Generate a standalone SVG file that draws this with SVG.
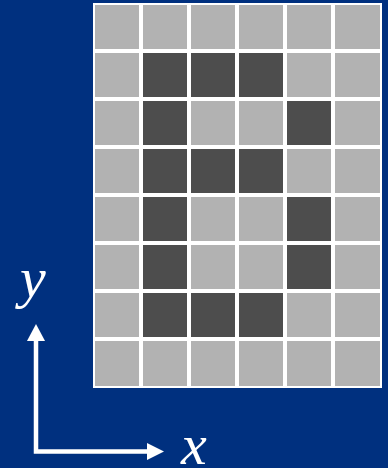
<svg xmlns="http://www.w3.org/2000/svg" width="388" height="468" viewBox="0 0 388 468">
<style>
.l{fill:#b2b2b2}
.d{fill:#4d4d4d}
.t{font-family:"Liberation Serif","Times New Roman",serif;font-style:italic;font-size:58px;fill:#ffffff}
.ax{stroke:#ffffff;stroke-width:4.5;fill:none}
</style>
<rect width="388" height="468" fill="#00307f"/>
<g id="grid">
<rect x="93" y="3" width="289" height="385" fill="#ffffff"/>
<g class="l">
<rect x="95" y="5" width="44" height="44"/><rect x="143" y="5" width="44" height="44"/><rect x="191" y="5" width="44" height="44"/><rect x="239" y="5" width="44" height="44"/><rect x="287" y="5" width="44" height="44"/><rect x="335" y="5" width="45" height="44"/>
<rect x="95" y="53" width="44" height="44"/><rect x="287" y="53" width="44" height="44"/><rect x="335" y="53" width="45" height="44"/>
<rect x="95" y="101" width="44" height="44"/><rect x="191" y="101" width="44" height="44"/><rect x="239" y="101" width="44" height="44"/><rect x="335" y="101" width="45" height="44"/>
<rect x="95" y="149" width="44" height="44"/><rect x="287" y="149" width="44" height="44"/><rect x="335" y="149" width="45" height="44"/>
<rect x="95" y="197" width="44" height="44"/><rect x="191" y="197" width="44" height="44"/><rect x="239" y="197" width="44" height="44"/><rect x="335" y="197" width="45" height="44"/>
<rect x="95" y="245" width="44" height="44"/><rect x="191" y="245" width="44" height="44"/><rect x="239" y="245" width="44" height="44"/><rect x="335" y="245" width="45" height="44"/>
<rect x="95" y="293" width="44" height="44"/><rect x="287" y="293" width="44" height="44"/><rect x="335" y="293" width="45" height="44"/>
<rect x="95" y="341" width="44" height="45"/><rect x="143" y="341" width="44" height="45"/><rect x="191" y="341" width="44" height="45"/><rect x="239" y="341" width="44" height="45"/><rect x="287" y="341" width="44" height="45"/><rect x="335" y="341" width="45" height="45"/>
</g>
<g class="d">
<rect x="143" y="53" width="44" height="44"/><rect x="191" y="53" width="44" height="44"/><rect x="239" y="53" width="44" height="44"/>
<rect x="143" y="101" width="44" height="44"/><rect x="287" y="101" width="44" height="44"/>
<rect x="143" y="149" width="44" height="44"/><rect x="191" y="149" width="44" height="44"/><rect x="239" y="149" width="44" height="44"/>
<rect x="143" y="197" width="44" height="44"/><rect x="287" y="197" width="44" height="44"/>
<rect x="143" y="245" width="44" height="44"/><rect x="287" y="245" width="44" height="44"/>
<rect x="143" y="293" width="44" height="44"/><rect x="191" y="293" width="44" height="44"/><rect x="239" y="293" width="44" height="44"/>
</g>
</g>
<g id="axes">
<polyline class="ax" points="36,338 36,451.5 149,451.5"/>
<polygon points="36,324 27,341 45,341" fill="#ffffff"/>
<polygon points="164,451.5 147,443 147,460" fill="#ffffff"/>
</g>
<text class="t" x="20" y="297">y</text>
<text class="t" x="181" y="464">x</text>
</svg>
